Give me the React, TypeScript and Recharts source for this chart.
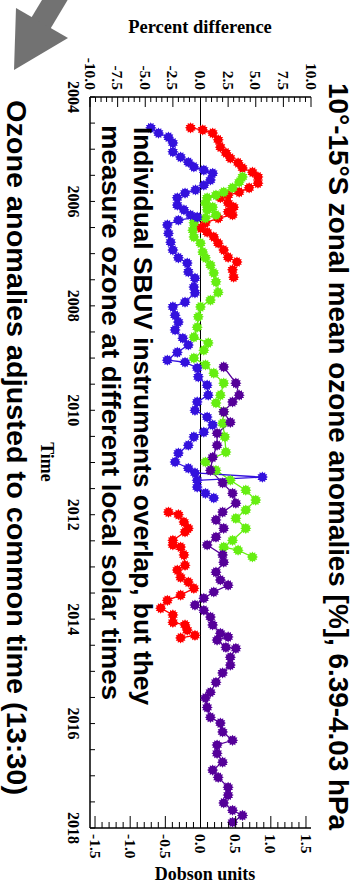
import React from 'react';
import { LineChart, Line, XAxis, YAxis, ReferenceLine } from 'recharts';

// [year, percent difference]
const redEarly: [number, number][] = [
  [2004.59, -0.9], [2004.63, 0.2], [2004.69, 1.1], [2004.82, 1.6], [2004.96, 1.8], [2005.07, 2.3],
  [2005.17, 2.7], [2005.26, 3.4], [2005.36, 3.8], [2005.44, 4.7], [2005.53, 5.2], [2005.65, 5.2],
  [2005.74, 4.4], [2005.82, 3.5], [2005.88, 2.5], [2005.93, 1.8], [2006.03, 2.5], [2006.11, 3.0],
  [2006.2, 2.5], [2006.26, 2.9], [2006.32, 1.6], [2006.41, 0.45], [2006.51, 0.0], [2006.59, 0.6],
  [2006.68, 1.2], [2006.8, 1.6], [2006.93, 2.1], [2007.07, 2.5], [2007.16, 3.3], [2007.31, 2.9],
  [2007.45, 3.0],
];
const redLate: [number, number][] = [
  [2011.95, -2.9], [2012.0, -2.0], [2012.14, -1.5], [2012.26, -1.1], [2012.33, -1.4], [2012.49, -2.5],
  [2012.58, -2.5], [2012.62, -1.8], [2012.77, -1.5], [2012.97, -1.4], [2013.06, -2.1], [2013.2, -1.8],
  [2013.29, -1.1], [2013.41, -0.6], [2013.54, -1.8], [2013.64, -3.0], [2013.79, -3.6], [2013.92, -2.5],
  [2014.06, -2.5], [2014.11, -1.4], [2014.21, -1.2], [2014.31, -0.5], [2014.36, -1.8],
];
const green: [number, number][] = [
  [2005.53, 3.8], [2005.63, 3.5], [2005.74, 2.9], [2005.82, 2.1], [2005.88, 1.4], [2005.93, 0.6],
  [2006.03, 0.45], [2006.11, 1.1], [2006.16, 0.6], [2006.26, 1.4], [2006.32, 0.45], [2006.41, -0.6],
  [2006.55, -0.7], [2006.68, -0.6], [2006.8, 0.0], [2006.97, 0.2], [2007.08, 0.45], [2007.22, 0.9],
  [2007.37, 1.2], [2007.54, 1.4], [2007.74, 1.6], [2007.89, 0.9], [2008.02, 0.0], [2008.21, -0.2],
  [2008.41, -0.3], [2008.6, -0.6], [2008.71, 0.7], [2008.85, 0.3], [2009.0, -0.6], [2009.13, 0.45],
  [2009.29, 1.2], [2009.48, 2.1], [2009.71, 1.8], [2009.86, 1.4], [2010.03, 2.1], [2010.25, 2.0],
  [2010.51, 2.2], [2010.8, 2.3], [2010.99, 0.45], [2011.15, 1.4], [2011.34, 2.7], [2011.53, 4.1],
  [2011.72, 5.0], [2011.91, 4.1], [2012.07, 3.2], [2012.26, 4.1], [2012.49, 2.9], [2012.62, 2.1],
  [2012.68, 3.4], [2012.81, 4.7],
];
const blue: [number, number][] = [
  [2004.59, -4.5], [2004.69, -3.8], [2004.77, -2.9], [2004.88, -2.5], [2005.05, -2.5], [2005.15, -1.8],
  [2005.25, -1.1], [2005.34, -0.6], [2005.4, 0.3], [2005.46, 1.1], [2005.59, 0.9], [2005.69, 0.3],
  [2005.78, -0.45], [2005.84, -1.4], [2005.93, -2.1], [2006.07, -2.1], [2006.16, -1.5], [2006.26, -0.9],
  [2006.3, -0.3], [2006.36, -2.0], [2006.45, -3.0], [2006.61, -2.9], [2006.78, -2.7], [2006.93, -2.5],
  [2007.08, -2.0], [2007.18, -1.2], [2007.35, -1.1], [2007.47, -0.5], [2007.64, -0.6], [2007.75, -0.5],
  [2007.93, -1.4], [2008.02, -2.5], [2008.18, -2.3], [2008.31, -2.0], [2008.46, -2.3], [2008.62, -1.6],
  [2008.75, -1.1], [2008.89, -2.1], [2009.04, -3.0], [2009.08, -1.4], [2009.19, -0.3], [2009.36, -0.2],
  [2009.52, 0.6], [2009.71, 0.7], [2009.84, -0.3], [2010.0, -0.5], [2010.13, 0.6], [2010.28, 1.1],
  [2010.42, 0.3], [2010.51, -0.6], [2010.67, -1.1], [2010.82, -2.0], [2010.99, -2.3], [2011.11, -1.1],
  [2011.2, -0.5], [2011.28, 5.6], [2011.34, -0.3], [2011.47, -0.3], [2011.59, 0.45], [2011.68, 1.2],
];
const purple: [number, number][] = [
  [2009.17, 2.1], [2009.48, 3.2], [2009.71, 3.5], [2009.84, 2.9], [2010.03, 2.1], [2010.23, 2.7],
  [2010.44, 1.5], [2010.67, 1.5], [2010.9, 1.1], [2011.15, 0.9], [2011.39, 2.0], [2011.59, 2.9],
  [2011.78, 3.2], [2011.95, 2.0], [2012.1, 1.4], [2012.26, 2.1], [2012.43, 1.4], [2012.58, 0.6],
  [2012.77, 2.0], [2012.91, 2.1], [2013.1, 1.4], [2013.25, 1.8], [2013.35, 2.5], [2013.48, 1.2],
  [2013.6, 0.3], [2013.73, -0.5], [2013.83, 0.3], [2013.96, 0.9], [2014.11, 1.1], [2014.27, 1.8],
  [2014.34, 2.5], [2014.4, 1.5], [2014.54, 2.3], [2014.56, 3.2], [2014.73, 2.7], [2014.88, 2.7],
  [2015.03, 2.0], [2015.21, 1.4], [2015.4, 0.9], [2015.51, 0.45], [2015.69, 0.6], [2015.88, 0.9],
  [2015.99, 1.8], [2016.16, 2.0], [2016.32, 2.9], [2016.41, 1.5], [2016.57, 1.5], [2016.74, 2.0],
  [2016.89, 1.1], [2017.03, 1.6], [2017.22, 2.5], [2017.37, 2.5], [2017.52, 2.1], [2017.66, 2.9],
  [2017.76, 3.8], [2017.89, 2.9],
];

const yearLabels = [2004, 2006, 2008, 2010, 2012, 2014, 2016, 2018];
const pctLabels = [-10, -7.5, -5, -2.5, 0, 2.5, 5, 7.5, 10];
const duLabels = [-1.5, -1.0, -0.5, 0.0, 0.5, 1.0, 1.5];

const W = 883;
const H = 355;
const PCT_TO_DU = 1.5714 / 10;

const halfYears: number[] = [];
for (let i = 0; i <= 28; i++) halfYears.push(2004 + i * 0.5);
const pctMinor: number[] = [];
for (let i = -20; i <= 20; i++) pctMinor.push(i * 0.5);
const duMinor: number[] = [];
for (let i = -15; i <= 15; i++) duMinor.push(i / 10);

const toRows = (arr: [number, number][]) => arr.map(([t, v]) => ({ t, v }));

const SERIF = "'Liberation Serif', 'Times New Roman', serif";
const SANS = "'Liberation Sans', Arial, sans-serif";

const starPoints = (cx: number, cy: number, r1: number, r2: number, n: number) => {
  const pts: string[] = [];
  for (let i = 0; i < n * 2; i++) {
    const r = i % 2 === 0 ? r1 : r2;
    const a = (Math.PI * i) / n - Math.PI / 2;
    pts.push(`${(cx + r * Math.cos(a)).toFixed(2)},${(cy + r * Math.sin(a)).toFixed(2)}`);
  }
  return pts.join(' ');
};

const makeDot = (color: string) => (props: any) => {
  const { cx, cy, index } = props;
  if (cx == null || cy == null) return <g key={`d${index}`} />;
  return (
    <g key={`d${index}`}>
      <polygon points={starPoints(cx, cy, 5.6, 3.3, 6)} fill={color} />
      <polygon points={starPoints(cx, cy, 5.6, 3.3, 6)} fill={color} transform={`rotate(30 ${cx} ${cy})`} />
    </g>
  );
};

const isMajor = (v: number, list: number[]) => list.some((m) => Math.abs(m - v) < 1e-6);

const BottomTick = (props: any) => {
  const { x, y, payload } = props;
  const v = payload.value;
  const major = isMajor(v, yearLabels);
  return (
    <g>
      <line x1={x} x2={x} y1={y} y2={y - 5} stroke="#000" strokeWidth={1} />
      {major && (
        <text x={x} y={y + 22} textAnchor="middle" fontFamily={SERIF} fontWeight="bold" fontSize={16} fill="#000">
          {v}
        </text>
      )}
    </g>
  );
};

const TopTick = (props: any) => {
  const { x, y } = props;
  return <line x1={x} x2={x} y1={y} y2={y + 5} stroke="#000" strokeWidth={1} />;
};

const LeftTick = (props: any) => {
  const { x, y, payload } = props;
  const v = payload.value;
  const major = isMajor(v, pctLabels);
  return (
    <g>
      <line x1={x} x2={x + (major ? 10 : 5)} y1={y} y2={y} stroke="#000" strokeWidth={1} />
      {major && (
        <text x={x - 7} y={y} dy="0.35em" textAnchor="end" fontFamily={SERIF} fontWeight="bold" fontSize={15.5} fill="#000">
          {v.toFixed(1)}
        </text>
      )}
    </g>
  );
};

const RightTick = (props: any) => {
  const { x, y, payload } = props;
  const v = payload.value;
  const major = isMajor(v, duLabels);
  return (
    <g>
      <line x1={x} x2={x - (major ? 12 : 6)} y1={y} y2={y} stroke="#000" strokeWidth={1} />
      {major && (
        <text x={x + 6} y={y} dy="0.35em" textAnchor="start" fontFamily={SERIF} fontWeight="bold" fontSize={15.5} fill="#000">
          {v.toFixed(1)}
        </text>
      )}
    </g>
  );
};

const series = [
  { key: 'redEarly', data: toRows(redEarly), color: '#ff0000' },
  { key: 'redLate', data: toRows(redLate), color: '#ff0000' },
  { key: 'green', data: toRows(green), color: '#66ee11' },
  { key: 'purple', data: toRows(purple), color: '#550099' },
  { key: 'blue', data: toRows(blue), color: '#3311dd' },
];

export default function App() {
  return (
    <div style={{ position: 'absolute', left: 0, top: 0, width: 355, height: 883, overflow: 'hidden', background: '#fff' }}>
      <div
        style={{
          position: 'absolute',
          left: 0,
          top: 0,
          width: W,
          height: H,
          transformOrigin: '0 0',
          transform: 'translate(355px, 0px) rotate(90deg)',
        }}
      >
        <LineChart width={W} height={H} margin={{ top: 44, right: 0, bottom: 0, left: 0 }}>
          <XAxis
            xAxisId="top"
            orientation="top"
            type="number"
            dataKey="t"
            domain={[2004, 2018]}
            ticks={halfYears}
            interval={0}
            height={0}
            tickSize={0}
            tickMargin={0}
            tickLine={false}
            tick={<TopTick />}
            axisLine={{ stroke: '#000', strokeWidth: 1.5 }}
            allowDataOverflow
          />
          <XAxis
            xAxisId="main"
            type="number"
            dataKey="t"
            domain={[2004, 2018]}
            ticks={halfYears}
            interval={0}
            height={90}
            tickSize={0}
            tickMargin={0}
            tickLine={false}
            tick={<BottomTick />}
            axisLine={{ stroke: '#000', strokeWidth: 1.5 }}
            allowDataOverflow
          />
          <YAxis
            yAxisId="pct"
            type="number"
            domain={[-10, 10]}
            ticks={pctMinor}
            interval={0}
            width={97}
            tickSize={0}
            tickMargin={0}
            tickLine={false}
            tick={<LeftTick />}
            axisLine={{ stroke: '#000', strokeWidth: 1.5 }}
            allowDataOverflow
          />
          <YAxis
            yAxisId="du"
            orientation="right"
            type="number"
            domain={[-10 * PCT_TO_DU, 10 * PCT_TO_DU]}
            ticks={duMinor}
            interval={0}
            width={55}
            tickSize={0}
            tickMargin={0}
            tickLine={false}
            tick={<RightTick />}
            axisLine={{ stroke: '#000', strokeWidth: 1.5 }}
            allowDataOverflow
          />
          <ReferenceLine xAxisId="main" yAxisId="pct" y={0} stroke="#000" strokeWidth={1} />
          {series.map((s) => (
            <Line
              key={s.key}
              xAxisId="main"
              yAxisId="pct"
              data={s.data}
              dataKey="v"
              type="linear"
              stroke={s.color}
              strokeWidth={1.3}
              dot={makeDot(s.color)}
              activeDot={false}
              isAnimationActive={false}
            />
          ))}
        </LineChart>
        <svg width={W} height={H} style={{ position: 'absolute', left: 0, top: 0, pointerEvents: 'none' }}>
          <text x={83} y={17} dy="0.35em" textAnchor="start" textLength={747} lengthAdjust="spacingAndGlyphs" fontFamily={SANS} fontWeight="bold" fontSize={27} fill="#000">
            10°-15°S zonal mean ozone anomalies [%], 6.39-4.03 hPa
          </text>
          <text x={100} y={339} dy="0.35em" textAnchor="start" textLength={695} lengthAdjust="spacingAndGlyphs" fontFamily={SANS} fontWeight="bold" fontSize={27} fill="#000">
            Ozone anomalies adjusted to common time (13:30)
          </text>
          <text x={127} y={212} dy="0.35em" textAnchor="start" textLength={578} lengthAdjust="spacingAndGlyphs" fontFamily={SANS} fontWeight="bold" fontSize={26} fill="#000">
            Individual SBUV instruments overlap, but they
          </text>
          <text x={125} y={244} dy="0.35em" textAnchor="start" textLength={575} lengthAdjust="spacingAndGlyphs" fontFamily={SANS} fontWeight="bold" fontSize={26} fill="#000">
            measure ozone at different local solar times
          </text>
          <text x={462} y={308} dy="0.35em" textAnchor="middle" fontFamily={SERIF} fontWeight="bold" fontSize={18} fill="#000">
            Time
          </text>
          <text
            x={27}
            y={155}
            dy="0.35em"
            textAnchor="middle"
            fontFamily={SERIF}
            fontWeight="bold"
            fontSize={18.5}
            fill="#000"
            transform="rotate(-90 27 155)"
          >
            Percent difference
          </text>
          <text
            x={874}
            y={150}
            dy="0.35em"
            textAnchor="middle"
            fontFamily={SERIF}
            fontWeight="bold"
            fontSize={18}
            fill="#000"
            transform="rotate(-90 874 150)"
          >
            Dobson units
          </text>
        </svg>
      </div>
      <svg width={355} height={883} style={{ position: 'absolute', left: 0, top: 0, pointerEvents: 'none' }}>
        <line x1={62} y1={-12} x2={38} y2={28} stroke="#727272" strokeWidth={22} />
        <polygon points="16,8 68,38 14,70" fill="#727272" />
      </svg>
    </div>
  );
}
